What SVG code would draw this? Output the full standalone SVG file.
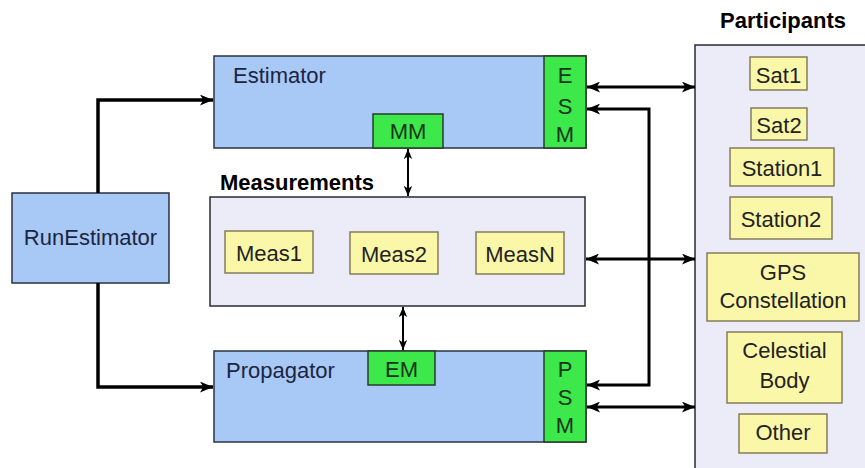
<svg xmlns="http://www.w3.org/2000/svg" width="865" height="468" viewBox="0 0 865 468">
<defs>
<style>
.blue{fill:#a8c8f6;stroke:#2a3340;stroke-width:1.5}
.green{fill:#3ce84a;stroke:#2a3a2a;stroke-width:1.5}
.yellow{fill:#fbf7a8;stroke:#857d5a;stroke-width:1.5}
.lav{fill:#ececf9;stroke:#2a2a33;stroke-width:1.5}
text{font-family:"Liberation Sans",Arial,sans-serif;font-size:22px}
.dk{fill:#1c2540}
.gt{fill:#16341a;text-anchor:middle}
.yt{fill:#222;text-anchor:middle}
.hd{font-weight:bold;fill:#000}
.c{fill:none;stroke:#000;stroke-width:3}
.c4{fill:none;stroke:#000;stroke-width:3.5}
.c2{fill:none;stroke:#000;stroke-width:2}
</style>
<marker id="ah" viewBox="0 0 12 10" refX="12" refY="5" markerWidth="13" markerHeight="11" markerUnits="userSpaceOnUse" orient="auto-start-reverse">
<path d="M0,0 L12,5 L0,10 L3,5 z" fill="#000"/>
</marker>
<marker id="ahs" viewBox="0 0 12 10" refX="12" refY="5" markerWidth="10" markerHeight="9" markerUnits="userSpaceOnUse" orient="auto-start-reverse">
<path d="M0,0 L12,5 L0,10 L3,5 z" fill="#000"/>
</marker>
</defs>
<rect width="865" height="468" fill="#fff"/>

<g id="participants">
<rect class="lav" x="695" y="45" width="185" height="440"/>
<text class="hd" x="783" y="28" text-anchor="middle">Participants</text>
</g>
<g id="sat1"><rect class="yellow" x="750" y="57" width="57" height="33"/><text class="yt" x="778.5" y="83">Sat1</text></g>
<g id="sat2"><rect class="yellow" x="751" y="108" width="56" height="32"/><text class="yt" x="779" y="133">Sat2</text></g>
<g id="station1"><rect class="yellow" x="730" y="148" width="104" height="38"/><text class="yt" x="782" y="176">Station1</text></g>
<g id="station2"><rect class="yellow" x="730" y="197" width="102" height="42"/><text class="yt" x="781" y="227">Station2</text></g>
<g id="gps"><rect class="yellow" x="707" y="253" width="152" height="68"/><text class="yt" x="783" y="280">GPS</text><text class="yt" x="783" y="308">Constellation</text></g>
<g id="celestial"><rect class="yellow" x="727" y="332" width="115" height="71"/><text class="yt" x="784.5" y="358">Celestial</text><text class="yt" x="784.5" y="388">Body</text></g>
<g id="other"><rect class="yellow" x="739" y="414" width="88" height="39"/><text class="yt" x="783" y="440">Other</text></g>

<g id="runestimator">
<rect class="blue" x="12" y="193" width="157" height="90"/>
<text class="dk" x="90.5" y="245" text-anchor="middle">RunEstimator</text>
</g>

<g id="estimator">
<rect class="blue" x="214" y="56" width="372" height="92"/>
<text class="dk" x="233" y="83">Estimator</text>
</g>
<g id="esm">
<rect class="green" x="544" y="56" width="42" height="92"/>
<text class="gt" x="565" y="83">E</text>
<text class="gt" x="565" y="114">S</text>
<text class="gt" x="565" y="142">M</text>
</g>
<g id="mm">
<rect class="green" x="373" y="114" width="70" height="34"/>
<text class="gt" x="408" y="139">MM</text>
</g>

<g id="measurements">
<rect class="lav" x="210" y="197" width="375" height="109"/>
<text class="hd" x="220" y="190">Measurements</text>
</g>
<g id="meas1"><rect class="yellow" x="225" y="231" width="88" height="42"/><text class="yt" x="269" y="261">Meas1</text></g>
<g id="meas2"><rect class="yellow" x="350" y="232" width="88" height="42"/><text class="yt" x="394" y="262">Meas2</text></g>
<g id="measn"><rect class="yellow" x="476" y="232" width="88" height="42"/><text class="yt" x="520" y="262">MeasN</text></g>

<g id="propagator">
<rect class="blue" x="214" y="351" width="372" height="91"/>
<text class="dk" x="226" y="378">Propagator</text>
</g>
<g id="em">
<rect class="green" x="368" y="351" width="67" height="34"/>
<text class="gt" x="401.5" y="377">EM</text>
</g>
<g id="psm">
<rect class="green" x="544" y="351" width="42" height="91"/>
<text class="gt" x="565" y="377">P</text>
<text class="gt" x="565" y="405">S</text>
<text class="gt" x="565" y="433">M</text>
</g>

<g id="connectors">
<path class="c4" d="M98,193 V100 H213" marker-end="url(#ah)"/>
<path class="c4" d="M98,283 V387 H213" marker-end="url(#ah)"/>
<path class="c2" d="M408,149 V196" marker-start="url(#ahs)" marker-end="url(#ahs)"/>
<path class="c2" d="M403,307 V350" marker-start="url(#ahs)" marker-end="url(#ahs)"/>
<path class="c" d="M587,87 H695" marker-start="url(#ah)" marker-end="url(#ah)"/>
<path class="c" d="M587,109 H649 V385 H587" marker-start="url(#ah)" marker-end="url(#ah)"/>
<path class="c" d="M586,259 H695" marker-start="url(#ah)" marker-end="url(#ah)"/>
<path class="c" d="M587,407 H695" marker-start="url(#ah)" marker-end="url(#ah)"/>
</g>
</svg>
